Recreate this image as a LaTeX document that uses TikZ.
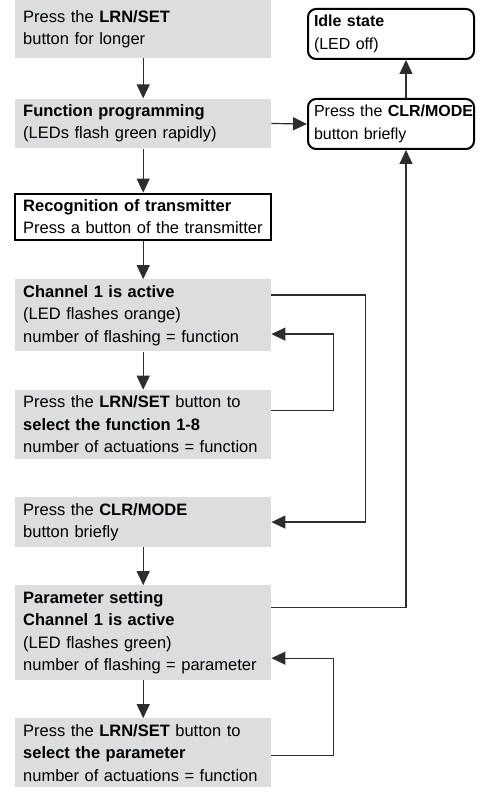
\documentclass[tikz,border=0pt]{standalone}
\usepackage{fontspec}
\setmainfont{Liberation Sans}
\usepackage{tikz}
\usetikzlibrary{positioning, calc, arrows.meta}
\definecolor{fpGrey}{RGB}{220,221,222}
\definecolor{fpLine}{RGB}{45,45,45}

\begin{document}
\begin{tikzpicture}[x=1pt, y=1pt, node distance=38pt,
  greybox/.style={fill=fpGrey, text width=240pt, inner xsep=8pt, inner ysep=6pt, align=left,
    font=\fontsize{16.5}{22.4}\selectfont},
  whitebox/.style={greybox, fill=white, draw=black, line width=2pt},
  roundbox/.style={draw=black, line width=2pt, rounded corners=8pt, text width=154pt, inner xsep=6pt,
    inner ysep=6pt, align=left, font=\fontsize{16}{22.4}\selectfont, minimum height=50pt},
  arr/.style={draw=fpLine, line width=1.2pt, -{Triangle[length=14pt, width=13pt]}}]
  \useasboundingbox (0,0) rectangle (489,-794);

  % left column
  \node[greybox, minimum height=58pt, anchor=north west] (press) at (15,0) {
    Press the \textbf{LRN/SET}\\
    button for longer};
  \node[greybox, below=40pt of press] (func) {
    \textbf{Function programming}\\
    (LEDs flash green rapidly)};
  \node[whitebox, below=44pt of func] (recog) {
    \textbf{Recognition of transmitter}\\
    Press a button of the transmitter};
  \node[greybox, below=of recog] (chan) {
    \textbf{Channel 1 is active}\\
    (LED flashes orange)\\
    number of flashing = function};
  \node[greybox, below=of chan] (selfun) {
    Press the \textbf{LRN/SET} button to\\
    \textbf{select the function 1-8}\\
    number of actuations = function};
  \node[greybox, below=of selfun] (clrbtn) {
    Press the \textbf{CLR/MODE}\\
    button briefly};
  \node[greybox, below=of clrbtn] (param) {
    \textbf{Parameter setting}\\
    \textbf{Channel 1 is active}\\
    (LED flashes green)\\
    number of flashing = parameter};
  \node[greybox, below=of param] (selpar) {
    Press the \textbf{LRN/SET} button to\\
    \textbf{select the parameter}\\
    number of actuations = function};

  % right column
  \node[roundbox, anchor=north west] (idle) at (307,-8) {
    \textbf{Idle state}\\
    (LED off)};
  \node[roundbox, anchor=north west] (clr) at (307,-98) {
    \mbox{Press the \textbf{CLR/MODE}}\\
    button briefly};
  \coordinate (rail) at (406,0);

  % connectors
  \draw[arr] (press) -- (func);
  \draw[arr] (func) -- (recog);
  \draw[arr] (recog) -- (chan);
  \draw[arr] (chan) -- (selfun);
  \draw[arr] (clrbtn) -- (param);
  \draw[arr] (param) -- (selpar);
  \draw[arr] (func.east) -- (clr.west);
  \draw[arr] (clr.north -| rail) -- (idle.south -| rail);
  \draw[arr] ($(param.north east)+(0,-22)$) -| (clr.south -| rail);
  \draw[arr] ($(chan.north east)+(0,-16)$) -- ++(94,0) |- (clrbtn.east);
  \draw[arr] ($(selfun.north east)+(0,-21)$) -- ++(62,0) |- ($(chan.north east)+(0,-55)$);
  \draw[arr] ($(selpar.north east)+(0,-37)$) -- ++(62,0) |- ($(param.north east)+(0,-73)$);
\end{tikzpicture}
\end{document}
